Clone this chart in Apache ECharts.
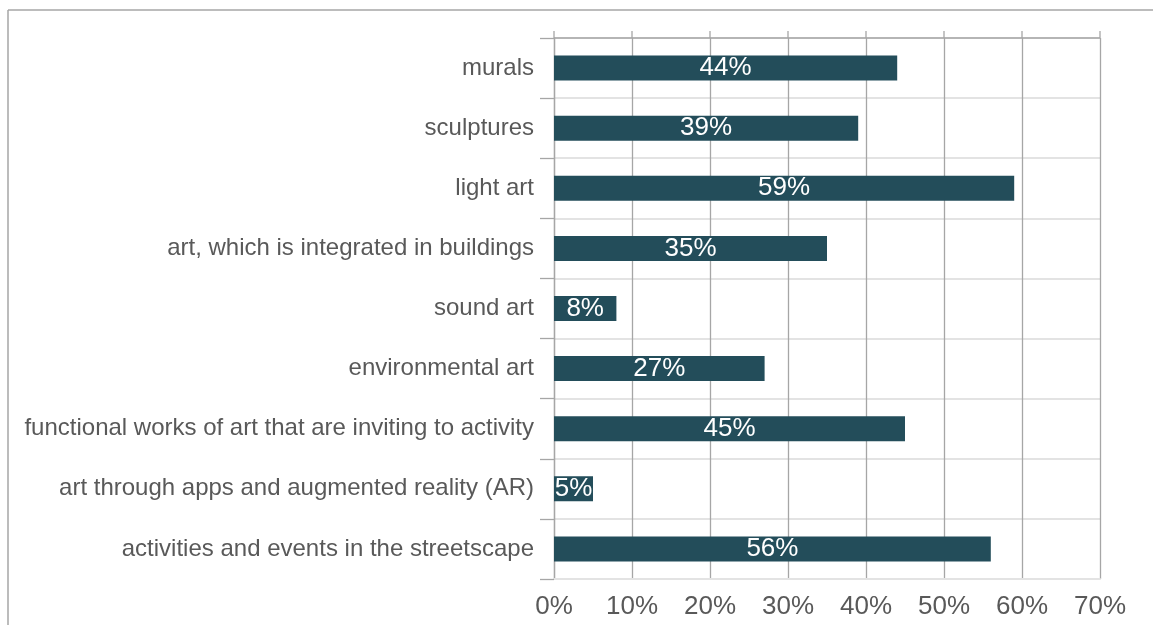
<!DOCTYPE html>
<html>
<head>
<meta charset="utf-8">
<script src="https://cdn.jsdelivr.net/npm/echarts@6/dist/echarts.min.js"></script>
<style>html,body{margin:0;padding:0;background:#fff}#c{width:1153px;height:625px}</style>
</head>
<body>
<div id="c"></div>
<script>
const categories = [
  "murals",
  "sculptures",
  "light art",
  "art, which is integrated in buildings",
  "sound art",
  "environmental art",
  "functional works of art that are inviting to activity",
  "art through apps and augmented reality (AR)",
  "activities and events in the streetscape"
];
const values = [44, 39, 59, 35, 8, 27, 45, 5, 56];
const xTicks = [0, 10, 20, 30, 40, 50, 60, 70];

const chart = echarts.init(document.getElementById('c'));
const FONT = '"Liberation Sans", Arial, sans-serif';
const GRID_TOP = 38;
const option = {
  animation: false,
  grid: { left: 554, right: 53, top: GRID_TOP, bottom: 46, containLabel: false },
  xAxis: {
    type: 'value', min: 0, max: 70, interval: 10,
    axisLine: { show: true, lineStyle: { color: '#e3e3e3', width: 2 } },
    axisTick: { show: false },
    splitLine: { show: true, lineStyle: { color: '#a6a6a6', width: 1.3 } },
    axisLabel: { formatter: v => v + '%', color: '#595959', fontSize: 26, fontFamily: FONT, margin: 15 }
  },
  yAxis: {
    type: 'category', data: categories, inverse: true,
    axisLine: { show: true, lineStyle: { color: '#a6a6a6', width: 1.3 } },
    axisTick: { show: true, length: 14, lineStyle: { color: '#a6a6a6', width: 1.3 } },
    splitLine: { show: true, lineStyle: { color: '#e3e3e3', width: 2 } },
    axisLabel: { color: '#595959', fontSize: 24, fontFamily: FONT, margin: 20 }
  },
  series: [{
    type: 'bar', data: values, barWidth: 25,
    itemStyle: { color: '#234d5a' },
    label: { show: true, position: 'inside', formatter: p => p.value + '%', color: '#fff', fontSize: 26, fontFamily: FONT }
  }]
};
chart.setOption(option);

// decorative frame and tick extensions above plot
const lines = xTicks.map(t => {
  const x = chart.convertToPixel({ xAxisIndex: 0 }, t);
  return { type: 'line', shape: { x1: x, y1: GRID_TOP - 7, x2: x, y2: GRID_TOP }, style: { stroke: '#a6a6a6', lineWidth: 1.3 } };
});
const x0 = chart.convertToPixel({ xAxisIndex: 0 }, 0);
const x70 = chart.convertToPixel({ xAxisIndex: 0 }, 70);
lines.push({ type: 'line', shape: { x1: x0, y1: GRID_TOP, x2: x70, y2: GRID_TOP }, style: { stroke: '#a6a6a6', lineWidth: 1.3 } });
lines.push({ type: 'line', shape: { x1: 8, y1: 10, x2: 1153, y2: 10 }, style: { stroke: '#a6a6a6', lineWidth: 1.5 } });
lines.push({ type: 'line', shape: { x1: 8, y1: 10, x2: 8, y2: 625 }, style: { stroke: '#a6a6a6', lineWidth: 1.5 } });
chart.setOption({ graphic: lines });
</script>
</body>
</html>
